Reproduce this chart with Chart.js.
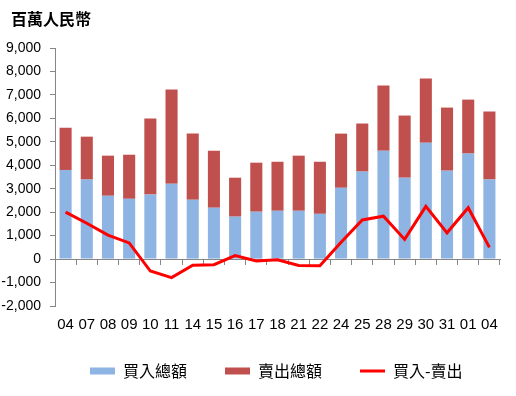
<!DOCTYPE html>
<html><head><meta charset="utf-8">
<script src="https://cdn.jsdelivr.net/npm/chart.js@4"></script>
<style>
html,body{margin:0;padding:0;background:#fff;}
#wrap{position:relative;width:516px;height:396px;}
#title{position:absolute;left:11px;top:8px;font-weight:bold;font-size:16px;font-family:"Noto Sans CJK TC","Noto Sans CJK SC",sans-serif;line-height:20px;color:#000;}
canvas{position:absolute;left:0;top:0;}
</style></head><body>
<div id="wrap"><canvas id="c" width="516" height="396"></canvas><div id="title">百萬人民幣</div></div>
<script>
const categories = ["04","07","08","09","10","11","14","15","16","17","18","21","22","24","25","28","29","30","31","01","04"];
const buyTotals  = [3800,3390,2700,2570,2750,3210,2530,2190,1810,2020,2060,2060,1930,3040,3730,4620,3470,4960,3770,4500,3390];
const sellTotals = [1800,1830,1710,1880,3240,4020,2820,2430,1660,2090,2090,2350,2220,2310,2050,2780,2650,2740,2690,2300,2900];
const netBuy     = [2000,1530,1020,690,-510,-790,-260,-240,150,-80,-30,-270,-280,720,1670,1830,840,2250,1120,2190,500];
const seriesNames = ["買入總額","賣出總額","買入-賣出"];
const yMin = -2000, yMax = 9000, yStep = 1000;

const axisGray = '#868686';
const colors = ['#8EB4E3','#C0504D','#FF0000'];
const legendPad = 38;

const legendPlacer = {
  id: 'legendPlacer',
  afterLayout(chart) {
    const lg = chart.legend;
    if (!lg || !lg.lineWidths) return;
    const startX = (lg.left + legendPad + lg.right - lg.lineWidths[0]) / 2;
    const startY = lg.top + legendPad;
    const dx = 90 - startX;
    const dy = 363 - startY;
    lg.left += dx; lg.right += dx; lg.top += dy; lg.bottom += dy;
  }
};

new Chart(document.getElementById('c'), {
  type: 'bar',
  data: {
    labels: categories,
    datasets: [
      {label: seriesNames[0], data: buyTotals, backgroundColor: colors[0], stack: 'bars', order: 1, barPercentage: 0.57, categoryPercentage: 1},
      {label: seriesNames[1], data: sellTotals, backgroundColor: colors[1], stack: 'bars', order: 1, barPercentage: 0.57, categoryPercentage: 1},
      {type: 'line', label: seriesNames[2], data: netBuy, borderColor: colors[2], backgroundColor: colors[2], borderWidth: 3, pointRadius: 0, tension: 0, stack: 'net', order: 0, fill: false}
    ]
  },
  plugins: [legendPlacer],
  options: {
    responsive: false,
    animation: false,
    layout: {padding: {left: 0, right: 16, top: 48, bottom: 0}},
    plugins: {
      tooltip: {enabled: false},
      title: {display: false},
      legend: {
        position: 'bottom',
        labels: {
          usePointStyle: true,
          pointStyleWidth: 25,
          padding: legendPad,
          color: '#000',
          font: {family: '"Noto Sans CJK TC","Noto Sans CJK SC",sans-serif', size: 16},
          generateLabels: (chart) => chart.data.datasets.map((ds, i) => ({
            text: ds.label,
            fillStyle: colors[i],
            strokeStyle: colors[i],
            lineWidth: i < 2 ? 7 : 3,
            lineCap: 'butt',
            pointStyle: 'line',
            hidden: false,
            datasetIndex: i,
            fontColor: '#000'
          }))
        }
      }
    },
    scales: {
      x: {
        type: 'category',
        position: 'bottom',
        stacked: true,
        offset: true,
        grid: {display: false, drawTicks: false, offset: true},
        border: {display: false},
        ticks: {color: '#000', padding: 10, maxRotation: 0, autoSkip: false, font: {family: '"Liberation Sans", Arial, sans-serif', size: 15}},
        afterFit: (s) => { s.height = 26; }
      },
      x2: {
        type: 'category',
        position: {y: 0},
        offset: true,
        grid: {display: true, drawOnChartArea: false, drawTicks: true, tickLength: 5, color: axisGray, offset: true},
        border: {display: true, color: axisGray, width: 1},
        ticks: {display: false}
      },
      y: {
        position: 'left',
        stacked: true,
        min: yMin, max: yMax,
        grid: {display: true, drawOnChartArea: false, drawTicks: true, tickLength: 5, color: axisGray},
        border: {display: true, color: axisGray, width: 1},
        ticks: {
          stepSize: yStep, color: '#000', padding: 9,
          font: {family: '"Liberation Sans", Arial, sans-serif', size: 14},
          callback: (v) => Number(v).toLocaleString('en-US')
        },
        afterFit: (s) => { s.width = 55; }
      }
    }
  }
});
</script>
</body></html>
